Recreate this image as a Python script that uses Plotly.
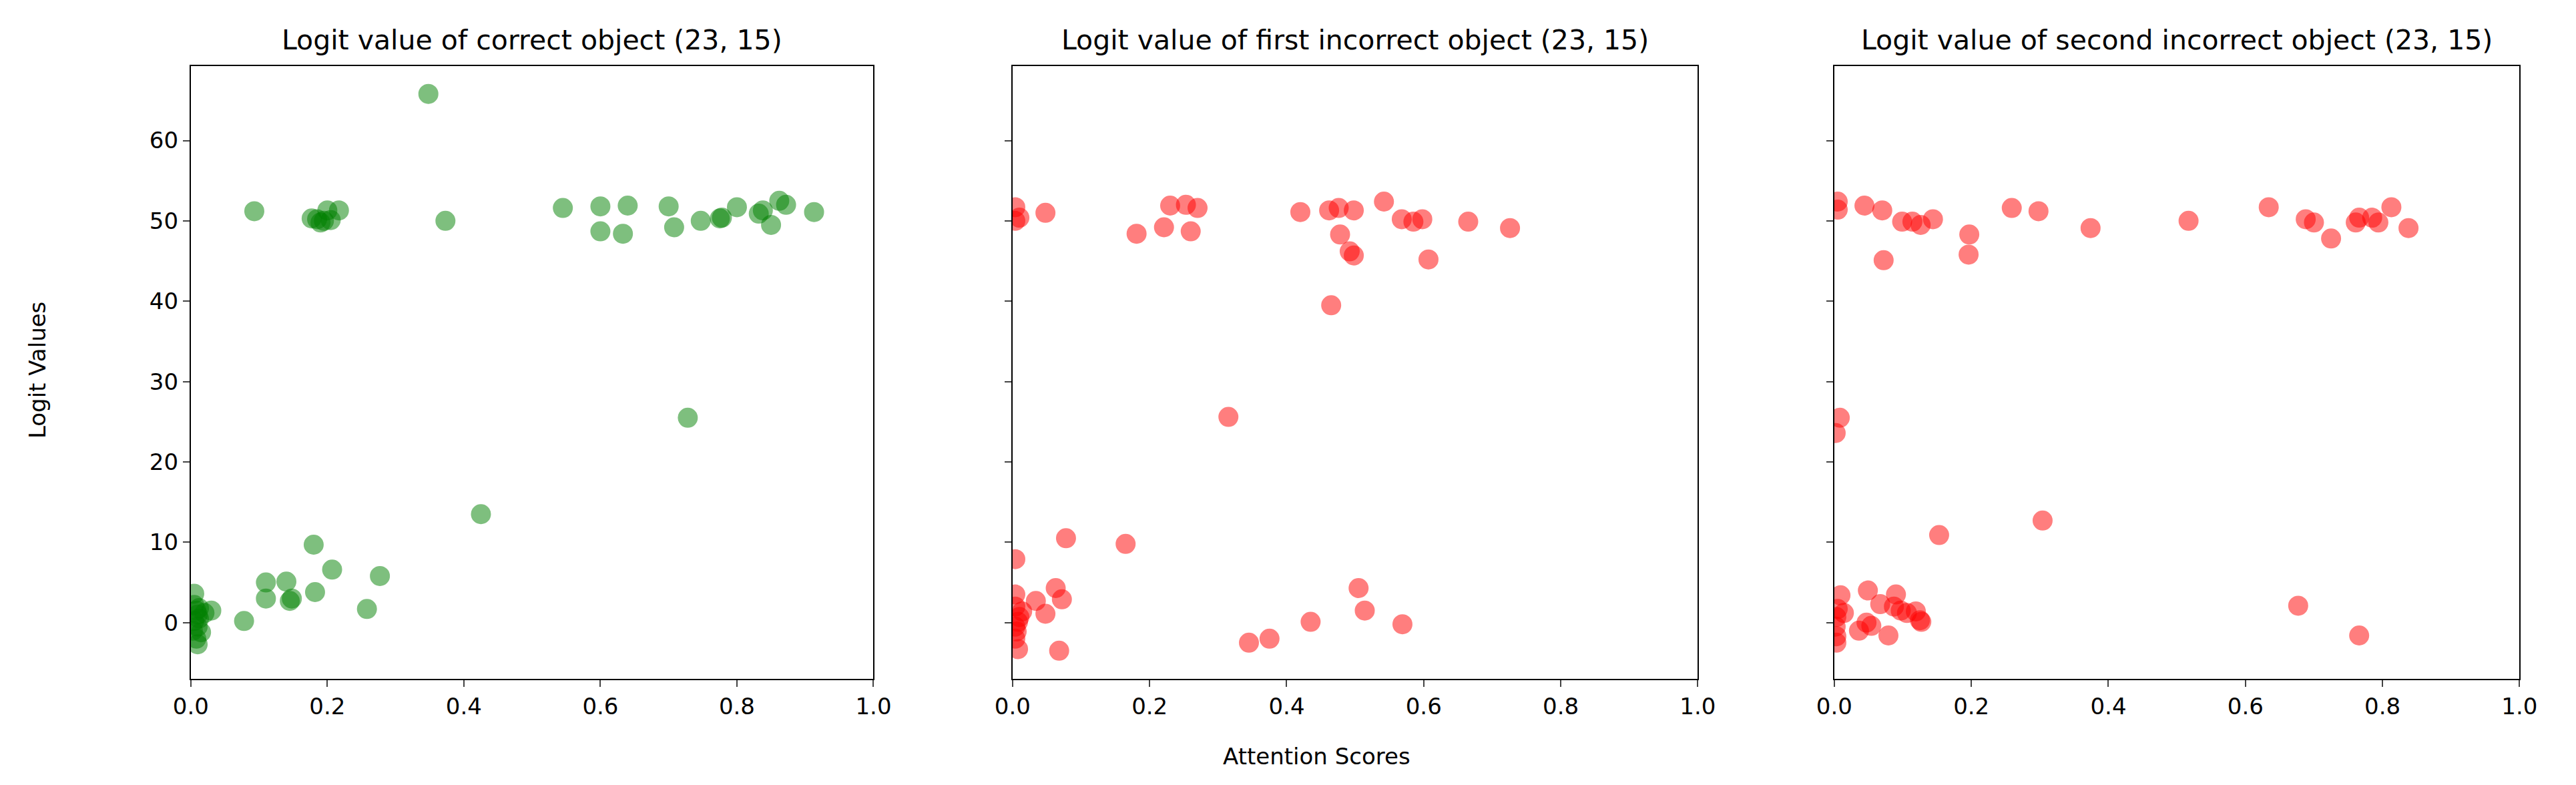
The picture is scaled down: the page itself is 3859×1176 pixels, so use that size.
import plotly.graph_objects as go

# correct object (green)
correct_x = [0.005, 0.005, 0.008, 0.01, 0.012, 0.005, 0.01, 0.015, 0.008, 0.01, 0.02, 0.03, 0.003, 0.012,
             0.078, 0.11, 0.11, 0.14, 0.145, 0.148, 0.18, 0.182, 0.207, 0.258, 0.277, 0.425, 0.728, 0.348,
             0.093, 0.177, 0.185, 0.19, 0.195, 0.2, 0.205, 0.217, 0.373, 0.545, 0.6, 0.6, 0.633, 0.64,
             0.7, 0.708, 0.747, 0.775, 0.778, 0.8, 0.832, 0.838, 0.85, 0.862, 0.872, 0.913]
correct_y = [3.6, 2.2, 1.5, 1.0, 0.5, 0.2, -0.5, -1.2, -2.0, -2.7, 1.2, 1.5, -1.0, 1.8,
             0.2, 5.0, 3.0, 5.1, 2.7, 3.0, 9.7, 3.8, 6.6, 1.7, 5.8, 13.5, 25.5, 65.8,
             51.2, 50.3, 50.2, 49.8, 50.0, 51.3, 50.1, 51.3, 50.0, 51.6, 51.8, 48.7, 48.4, 51.9,
             51.8, 49.2, 50.0, 50.3, 50.4, 51.7, 50.9, 51.3, 49.5, 52.5, 52.0, 51.1]

# first incorrect object (red)
first_x = [0.004, 0.01, 0.004, 0.048, 0.181, 0.221, 0.23, 0.253, 0.27, 0.26, 0.42, 0.462, 0.476, 0.478,
           0.498, 0.492, 0.498, 0.542, 0.568, 0.585, 0.598, 0.607, 0.665, 0.726, 0.465, 0.315, 0.078,
           0.165, 0.004, 0.004, 0.034, 0.063, 0.072, 0.048, 0.014, 0.008, 0.006, 0.004, 0.008, 0.068,
           0.345, 0.375, 0.435, 0.505, 0.514, 0.569, 0.004, 0.01, 0.004]
first_y = [51.7, 50.4, 50.0, 51.0, 48.4, 49.2, 51.9, 52.0, 51.6, 48.7, 51.1, 51.3, 51.6, 48.3,
           51.3, 46.2, 45.7, 52.4, 50.2, 49.9, 50.2, 45.2, 49.9, 49.1, 39.5, 25.6, 10.5,
           9.8, 7.9, 3.5, 2.7, 4.3, 2.9, 1.1, 1.4, 0.1, -1.1, -2.0, -3.3, -3.5,
           -2.5, -2.0, 0.1, 4.3, 1.5, -0.2, 2.0, 0.7, -0.5]

# second incorrect object (red)
second_x = [0.005, 0.005, 0.044, 0.07, 0.099, 0.114, 0.126, 0.144, 0.197, 0.196, 0.072, 0.259, 0.298,
            0.374, 0.517, 0.634, 0.688, 0.7, 0.725, 0.761, 0.766, 0.785, 0.794, 0.813, 0.838, 0.008,
            0.002, 0.153, 0.304, 0.009, 0.049, 0.09, 0.067, 0.087, 0.097, 0.106, 0.119, 0.127, 0.125,
            0.054, 0.047, 0.036, 0.079, 0.677, 0.766, 0.014, 0.003, 0.003, 0.003, 0.005, 0.002]
second_y = [52.4, 51.4, 51.9, 51.3, 49.9, 49.9, 49.5, 50.2, 48.3, 45.8, 45.1, 51.6, 51.2,
            49.1, 50.0, 51.7, 50.2, 49.8, 47.8, 49.8, 50.4, 50.4, 49.8, 51.7, 49.1, 25.5,
            23.6, 10.9, 12.7, 3.4, 4.0, 3.5, 2.3, 2.0, 1.5, 1.2, 1.4, 0.1, 0.3,
            -0.4, 0.0, -1.0, -1.6, 2.1, -1.6, 1.2, 0.7, -1.7, -2.5, 1.7, -0.5]

titles = ["Logit value of correct object (23, 15)",
          "Logit value of first incorrect object (23, 15)",
          "Logit value of second incorrect object (23, 15)"]

font = dict(family="DejaVu Sans", color="black")
domains = [(0.072, 0.337), (0.391, 0.657), (0.710, 0.976)]
series = [(correct_x, correct_y, "green"), (first_x, first_y, "red"), (second_x, second_y, "red")]

fig = go.Figure()
for i, ((xs, ys, c), dom, t) in enumerate(zip(series, domains, titles)):
    n = "" if i == 0 else str(i + 1)
    fig.add_trace(go.Scatter(x=xs, y=ys, mode="markers", xaxis="x" + n, yaxis="y" + n,
                             marker=dict(size=28, color=c, opacity=0.5, line=dict(color=c, width=2))))
    axis = dict(showline=True, linecolor="black", linewidth=2, mirror=True, ticks="outside",
                ticklen=10, tickwidth=2, showgrid=False, zeroline=False, automargin=False,
                tickfont=dict(size=34, **font))
    fig.layout["xaxis" + n] = dict(axis, domain=dom, range=[0, 1], dtick=0.2, tickformat=".1f",
                                   anchor="y" + n)
    fig.layout["yaxis" + n] = dict(axis, domain=[0.142, 0.923], range=[-7, 69.3], dtick=10,
                                   anchor="x" + n, showticklabels=(i == 0))
    fig.add_annotation(text=t, x=(dom[0] + dom[1]) / 2, y=0.956, xref="paper", yref="paper",
                       xanchor="center", yanchor="middle", showarrow=False,
                       font=dict(size=41, **font))

fig.add_annotation(text="Logit Values", x=0.0125, y=0.535, xref="paper", yref="paper",
                   xanchor="center", yanchor="middle",
                   textangle=-90, showarrow=False, font=dict(size=34, **font))
fig.add_annotation(text="Attention Scores", x=0.509, y=0.043, xref="paper", yref="paper",
                   xanchor="center", yanchor="middle",
                   showarrow=False, font=dict(size=34, **font))

fig.update_layout(width=3859, height=1176, margin=dict(l=0, r=0, t=0, b=0),
                  plot_bgcolor="white", paper_bgcolor="white", showlegend=False)
fig.write_html("out.html")
